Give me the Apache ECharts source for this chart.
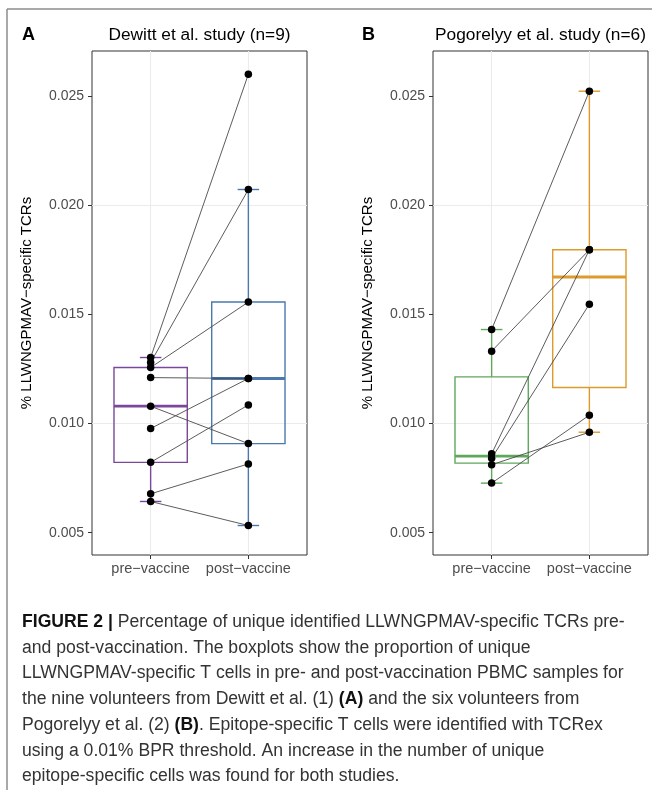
<!DOCTYPE html>
<html>
<head>
<meta charset="utf-8">
<script src="https://cdn.jsdelivr.net/npm/echarts@6/dist/echarts.min.js"></script>
<style>
html,body{margin:0;padding:0;background:#fff;}
#chart{width:652px;height:790px;}
</style>
</head>
<body>
<div id="chart"></div>
<script>
// ---- data ----
const categories = ['pre\u2212vaccine', 'post\u2212vaccine'];
const yTicks = [0.005, 0.010, 0.015, 0.020, 0.025];
const yMinorTicks = [0.0075, 0.0125, 0.0175, 0.0225];

const titleA = 'Dewitt et al. study (n=9)';
const titleB = 'Pogorelyy et al. study (n=6)';
const yTitle = '% LLWNGPMAV\u2212specific TCRs';

// paired values per volunteer (pre[i] -> post[i])
const preA  = [0.01302, 0.01279, 0.01256, 0.01210, 0.01079, 0.00977, 0.00822, 0.00678, 0.00643];
const postA = [0.02599, 0.02071, 0.01556, 0.01206, 0.00908, 0.01206, 0.01085, 0.00815, 0.00533];

const preB  = [0.01430, 0.01331, 0.00861, 0.00841, 0.00811, 0.00727];
const postB = [0.02521, 0.01795, 0.01795, 0.01546, 0.00960, 0.01038];

const colorsA = ['#7a479c', '#4b79ae'];
const colorsB = ['#5ea85a', '#dc9b2c'];

const captionLines = [
  '{b|FIGURE 2 |} Percentage of unique identified LLWNGPMAV-specific TCRs pre-',
  'and post-vaccination. The boxplots show the proportion of unique',
  'LLWNGPMAV-specific T cells in pre- and post-vaccination PBMC samples for',
  'the nine volunteers from Dewitt et al. (1) {b|(A)} and the six volunteers from',
  'Pogorelyy et al. (2) {b|(B)}. Epitope-specific T cells were identified with TCRex',
  'using a 0.01% BPR threshold. An increase in the number of unique',
  'epitope-specific cells was found for both studies.'
];

// ---- box statistics (ggplot-like: type-7 quantiles, 1.5 IQR whiskers) ----
function quantile(sorted, p) {
  const h = (sorted.length - 1) * p;
  const lo = Math.floor(h), hi = Math.ceil(h);
  return sorted[lo] + (h - lo) * (sorted[hi] - sorted[lo]);
}
function boxStats(vals) {
  const s = vals.slice().sort((a, b) => a - b);
  const q1 = quantile(s, 0.25), med = quantile(s, 0.5), q3 = quantile(s, 0.75);
  const iqr = q3 - q1;
  const lowF = q1 - 1.5 * iqr, highF = q3 + 1.5 * iqr;
  const inside = s.filter(v => v >= lowF && v <= highF);
  return [inside[0], q1, med, q3, inside[inside.length - 1]];
}

const yMin = 0.00398, yMax = 0.02705;

function renderBox(params, api) {
  const x = api.value(0);
  const lo = api.coord([x, api.value(1)]);
  const q1 = api.coord([x, api.value(2)]);
  const md = api.coord([x, api.value(3)]);
  const q3 = api.coord([x, api.value(4)]);
  const hi = api.coord([x, api.value(5)]);
  const cx = lo[0];
  const hb = api.coord([x + 0.375, api.value(3)])[0] - cx;
  const hc = api.coord([x + 0.11, api.value(3)])[0] - cx;
  const color = api.visual('color');
  const ls = () => ({stroke: color, lineWidth: 1.4, fill: null});
  return {
    type: 'group',
    children: [
      {type: 'rect', shape: {x: cx - hb, y: q3[1], width: 2 * hb, height: q1[1] - q3[1]}, style: {stroke: color, lineWidth: 1.4, fill: 'rgba(0,0,0,0)'}},
      {type: 'line', shape: {x1: cx, y1: q3[1], x2: cx, y2: hi[1]}, style: ls()},
      {type: 'line', shape: {x1: cx, y1: q1[1], x2: cx, y2: lo[1]}, style: ls()},
      {type: 'line', shape: {x1: cx - hc, y1: hi[1], x2: cx + hc, y2: hi[1]}, style: ls()},
      {type: 'line', shape: {x1: cx - hc, y1: lo[1], x2: cx + hc, y2: lo[1]}, style: ls()},
      {type: 'line', shape: {x1: cx - hb, y1: md[1], x2: cx + hb, y2: md[1]}, style: {stroke: color, lineWidth: 2.8}}
    ]
  };
}

const FONT = 'Liberation Sans, Arial, sans-serif';

function makeAxes(gi) {
  const xAxis = {
    type: 'value', gridIndex: gi, min: 0.4, max: 2.6,
    axisLine: {show: false},
    axisTick: {show: true, length: 4, lineStyle: {color: '#333', width: 1}, customValues: [1, 2]},
    axisLabel: {customValues: [1, 2], formatter: v => categories[Math.round(v) - 1] || '', color: '#4d4d4d', fontSize: 14.5, fontFamily: FONT, margin: 6},
    splitLine: {show: false}
  };
  const yAxis = {
    type: 'value', gridIndex: gi, min: yMin, max: yMax,
    name: yTitle, nameLocation: 'middle', nameGap: 58,
    nameTextStyle: {color: '#000', fontSize: 15, fontFamily: FONT},
    axisLine: {show: false},
    axisTick: {show: true, length: 4, lineStyle: {color: '#333', width: 1}, customValues: yTicks},
    axisLabel: {customValues: yTicks, formatter: v => v.toFixed(3), color: '#4d4d4d', fontSize: 14, fontFamily: FONT, margin: 8},
    splitLine: {show: false}
  };
  return [xAxis, yAxis];
}

function gridSeries(gi) {
  const major = yTicks.map(v => ({yAxis: v, lineStyle: {color: '#ebebeb', width: 1.1, type: 'solid'}}));
  const minor = yMinorTicks.map(v => ({yAxis: v, lineStyle: {color: '#f4f4f4', width: 0.8, type: 'solid'}}));
  const vert = [1, 2].map(v => ({xAxis: v, lineStyle: {color: '#ebebeb', width: 1.1, type: 'solid'}}));
  return {
    type: 'line', xAxisIndex: gi, yAxisIndex: gi, z: 0, silent: true,
    data: [], showSymbol: false,
    markLine: {silent: true, z: 0, symbol: ['none', 'none'], label: {show: false}, animation: false,
      emphasis: {disabled: true},
      data: minor.concat(major, vert)}
  };
}

function panelSeries(gi, pre, post, colors) {
  const series = [gridSeries(gi)];
  series.push({
    type: 'custom', xAxisIndex: gi, yAxisIndex: gi, z: 3, silent: true,
    renderItem: renderBox,
    data: [
      {value: [1].concat(boxStats(pre)), itemStyle: {color: colors[0]}},
      {value: [2].concat(boxStats(post)), itemStyle: {color: colors[1]}}
    ],
    animation: false
  });
  for (let i = 0; i < pre.length; i++) {
    series.push({
      type: 'line', xAxisIndex: gi, yAxisIndex: gi, z: 4, silent: true,
      data: [[1, pre[i]], [2, post[i]]], showSymbol: false, symbol: 'none',
      lineStyle: {color: '#4a4a4a', width: 0.9}, animation: false
    });
  }
  series.push({
    type: 'scatter', xAxisIndex: gi, yAxisIndex: gi, z: 5, silent: true,
    symbolSize: 7.5, itemStyle: {color: '#000', opacity: 1},
    data: pre.map(v => [1, v]).concat(post.map(v => [2, v])), animation: false
  });
  return series;
}

const axA = makeAxes(0), axB = makeAxes(1);

const graphics = [
  {type: 'line', shape: {x1: 7, y1: 9, x2: 652, y2: 9}, style: {stroke: '#8c8c8c', lineWidth: 1.5}},
  {type: 'line', shape: {x1: 7, y1: 9, x2: 7, y2: 790}, style: {stroke: '#8c8c8c', lineWidth: 1.5}},
  {type: 'text', x: 22, y: 35, style: {text: 'A', font: 'bold 18px ' + FONT, fill: '#000', textVerticalAlign: 'middle'}},
  {type: 'text', x: 362, y: 35, style: {text: 'B', font: 'bold 18px ' + FONT, fill: '#000', textVerticalAlign: 'middle'}},
  {type: 'text', x: 199.5, y: 35, style: {text: titleA, font: '17.3px ' + FONT, fill: '#000', textAlign: 'center', textVerticalAlign: 'middle'}},
  {type: 'text', x: 540.5, y: 35, style: {text: titleB, font: '17.3px ' + FONT, fill: '#000', textAlign: 'center', textVerticalAlign: 'middle'}}
];
const capY = [622, 648, 673.5, 699.5, 725, 751, 776.5];
captionLines.forEach((t, i) => {
  graphics.push({
    type: 'text', x: 22, y: capY[i],
    style: {
      text: t, fill: '#333', fontSize: 17.6, fontFamily: FONT, verticalAlign: 'middle', textVerticalAlign: 'middle',
      rich: {b: {fontWeight: 'bold', fill: '#111', fontSize: 17.6, fontFamily: FONT}}
    }
  });
});

const option = {
  animation: false,
  backgroundColor: '#fff',
  grid: [
    {left: 92, top: 51, width: 215, height: 504, show: true, backgroundColor: '#fff', borderColor: '#333', borderWidth: 1},
    {left: 433, top: 51, width: 215, height: 504, show: true, backgroundColor: '#fff', borderColor: '#333', borderWidth: 1}
  ],
  xAxis: [axA[0], axB[0]],
  yAxis: [axA[1], axB[1]],
  series: panelSeries(0, preA, postA, colorsA).concat(panelSeries(1, preB, postB, colorsB)),
  graphic: graphics
};

const chart = echarts.init(document.getElementById('chart'), null, {renderer: 'canvas'});
chart.setOption(option);
</script>
</body>
</html>
